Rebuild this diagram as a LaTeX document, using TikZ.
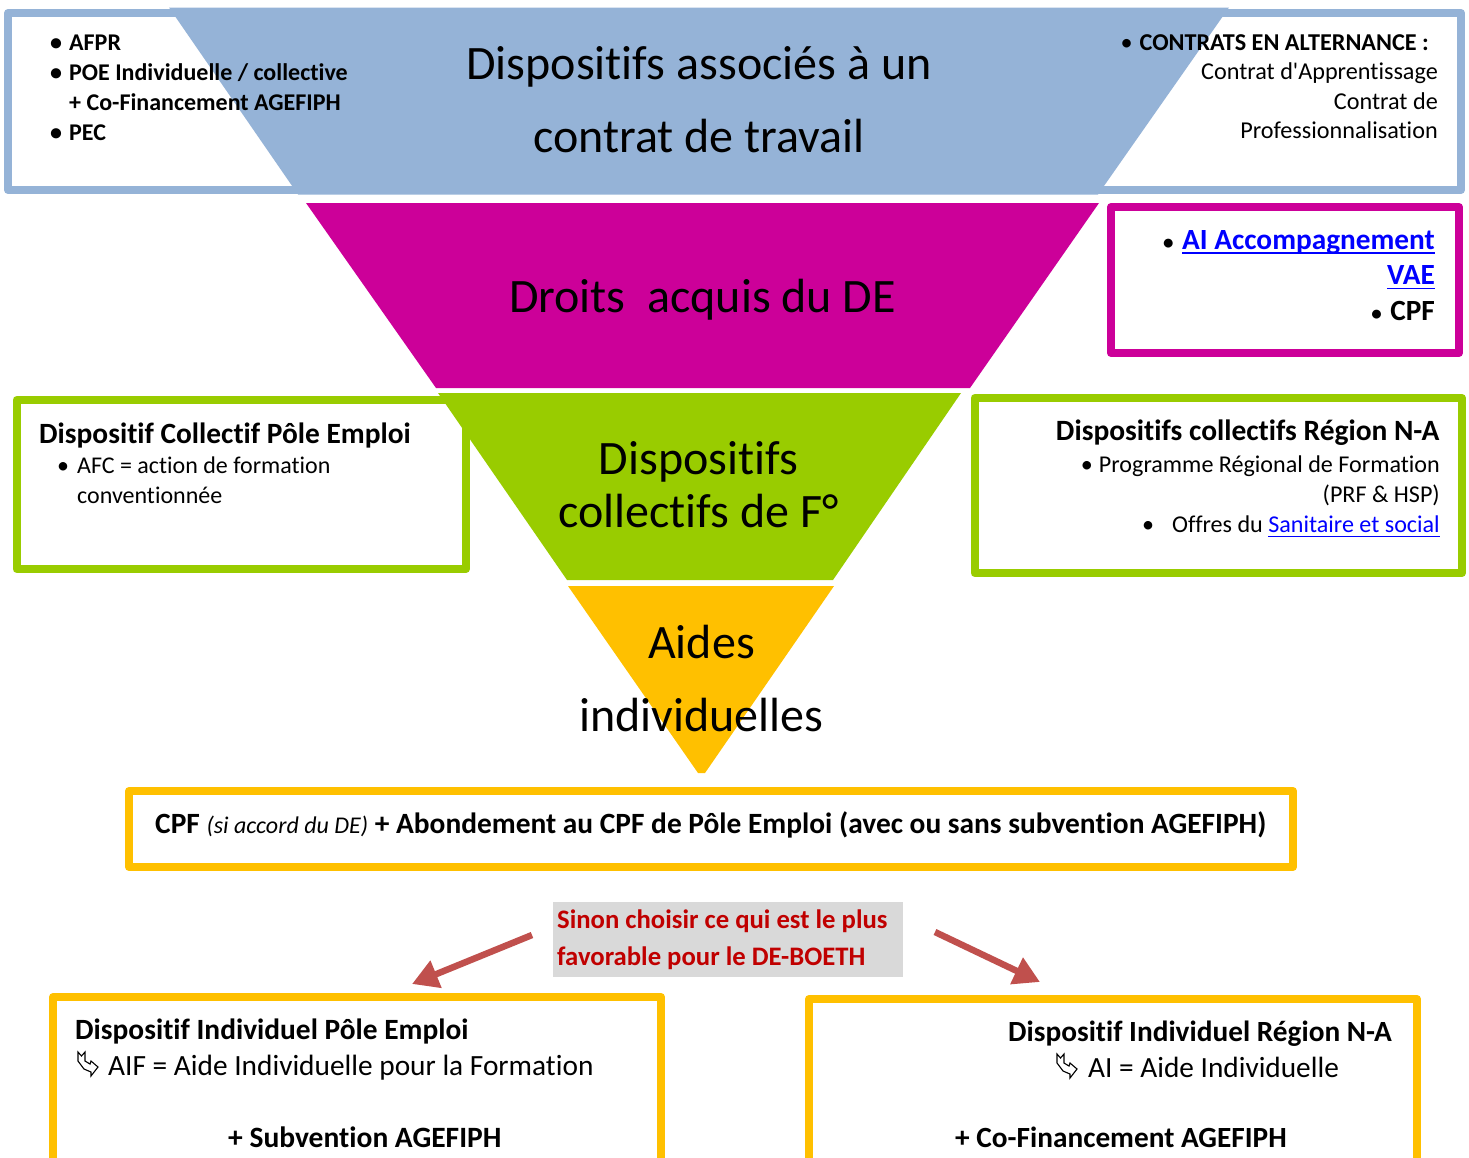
\documentclass[tikz,border=0pt]{standalone}
\usepackage{xcolor}
\usepackage{fontspec}
\setmainfont{Carlito}[Ligatures={NoCommon}]
\usetikzlibrary{arrows.meta}
\definecolor{bleuF}{HTML}{95B3D7}
\definecolor{magentaF}{HTML}{CC0099}
\definecolor{vertF}{HTML}{99CC00}
\definecolor{orangeF}{HTML}{FFC000}
\definecolor{rougeF}{HTML}{C0504D}
\definecolor{rougeT}{HTML}{C00000}
\definecolor{grisF}{HTML}{D9D9D9}
\newsavebox{\boiteLien}
\newcommand{\lien}[1]{\sbox{\boiteLien}{\color{blue}#1}\textcolor{blue}{\rlap{\rule[-4.5pt]{\wd\boiteLien}{1.5pt}}\usebox{\boiteLien}}}
\newcommand{\puce}{\makebox[19pt][l]{\textbullet}}
\newcommand{\petitepuce}{\makebox[19pt][l]{\fontsize{21}{21}\selectfont\textbullet}}

\begin{document}
\begin{tikzpicture}[x=1pt,y=-1pt]
        \useasboundingbox (0,0) rectangle (1469,1157);
        \clip (0,0) rectangle (1469,1157);
        \tikzset{cadre/.style={draw,line width=8pt,line join=round,fill=white,inner sep=0pt}}
        \tikzset{texte/.style={inner sep=0pt,font=\fontsize{#1}{#1}\selectfont}}
        \tikzset{fleche/.style={-{Triangle[length=26pt,width=28pt]},line width=6.5pt,color=rougeF}}
        \tikzset{coude/.pic={\draw[line width=1.1pt,line join=miter,fill=white] (0,0) -- (3.5,4) -- (7,0) -- (7,9) -- (12,12) -- (13,9) -- (20,15) -- (13,24) -- (13,20) -- (6,17) -- (0,9) -- cycle;}}
        \node[cadre,draw=bleuF,minimum width=1453pt,minimum height=177pt] (cAsso) at (734.5,101.5) {};
        \node[cadre,draw=magentaF,minimum width=348pt,minimum height=146pt] (cDroits) at (1285,280) {};
        \node[cadre,draw=vertF,minimum width=449.5pt,minimum height=169pt] (cPole) at (241.25,484.5) {};
        \node[cadre,draw=vertF,minimum width=487.5pt,minimum height=175pt] (cRegion) at (1218.25,485.5) {};
        \node[cadre,draw=orangeF,minimum width=1164pt,minimum height=76pt] (cCpf) at (711,829) {};
        \node[cadre,draw=orangeF,minimum width=608pt,minimum height=200pt] (cIndPole) at (357,1097) {};
        \node[cadre,draw=orangeF,minimum width=608pt,minimum height=200pt] (cIndRegion) at (1113,1099) {};
        \fill[bleuF] (169,7.5) -- (1229,7.5) -- (1098,194.5) -- (298,194.5) -- cycle;
        \fill[magentaF] (306,203) -- (1099,203) -- (970,388) -- (436,388) -- cycle;
        \fill[vertF] (438,393) -- (961,393) -- (833,580) -- (567,580) -- cycle;
        \fill[orangeF] (568,586) -- (834,586) -- (705,773) -- (698,773) -- cycle;
        \node[texte=48,align=center,font=\fontsize{48}{73}\selectfont] (tAsso) at (699,99.5) {Dispositifs associés à un\\contrat de travail};
        \node[texte=48] (tDroits) at (702.5,299.5) {Droits\ \ acquis du DE};
        \node[texte=48,align=center,font=\fontsize{48}{53}\selectfont] (tColl) at (698.5,485) {Dispositifs\\collectifs de F°};
        \node[texte=48,align=center,font=\fontsize{48}{73}\selectfont] (tAides) at (701.5,678) {Aides\\individuelles};
        \node[texte=24,align=left,anchor=north west,font=\fontsize{24}{30.2}\bfseries\selectfont] (lAsso) at (50,34.5) {\puce AFPR\\\puce POE Individuelle / collective\\\hspace*{19pt}+ Co-Financement AGEFIPH\\\puce PEC};
        \node[texte=24,align=right,anchor=north east,font=\fontsize{24.2}{29.3}\selectfont] (lAlt) at (1438,34.5) {\makebox[19pt][l]{\textbullet}\textbf{CONTRATS EN ALTERNANCE :}\hspace*{9pt}\\Contrat d\textquotesingle Apprentissage\\Contrat de\\Professionnalisation};
        \node[texte=29,align=right,anchor=north east,font=\fontsize{29.3}{35.5}\bfseries\selectfont] (lDroits) at (1435,230) {\petitepuce\lien{AI Accompagnement}\\\lien{VAE}\\\petitepuce CPF};
        \node[texte=29,anchor=west,font=\fontsize{29.4}{29}\bfseries\selectfont] (hPole) at (39,435) {Dispositif Collectif Pôle Emploi};
        \node[texte=24,align=left,anchor=north west,font=\fontsize{24}{29.5}\selectfont] (lPole) at (57,457) {\makebox[20pt][l]{\textbullet}AFC = action de formation\\\hspace*{20pt}conventionnée};
        \node[texte=29,anchor=east,font=\fontsize{29.45}{29}\bfseries\selectfont] (hRegion) at (1439.5,433) {Dispositifs collectifs Région N-A};
        \node[texte=24,align=right,anchor=north east,font=\fontsize{24.1}{30}\selectfont] (lRegion) at (1440,456) {\makebox[18pt][l]{\textbullet}Programme Régional de Formation\\(PRF \& HSP)\\\makebox[30pt][l]{\textbullet}Offres du \lien{Sanitaire et social}};
        \node[texte=29,anchor=base west,font=\fontsize{29.4}{29}\selectfont] (tCpf) at (155,833) {\textbf{CPF} {\itshape\fontsize{24}{24}\selectfont (si accord du DE)} \textbf{+ Abondement au CPF de Pôle Emploi (avec ou sans subvention AGEFIPH)}};
        \node[fill=grisF,minimum width=350pt,minimum height=75pt,inner sep=0pt] (gSinon) at (728,939.5) {};
        \node[texte=26,align=left,anchor=west,text=rougeT,font=\fontsize{26.7}{37}\bfseries\selectfont] (tSinon) at (557,940) {Sinon choisir ce qui est le plus\\favorable pour le DE-BOETH};
        \coordinate (sG) at (532,935);
        \coordinate (aG) at (412,984);
        \coordinate (sD) at (935,932);
        \coordinate (aD) at (1040,982);
        \draw[fleche] (sG) -- (aG);
        \draw[fleche] (sD) -- (aD);
        \node[texte=29,anchor=west,font=\fontsize{29.4}{29}\bfseries\selectfont] (hIndPole) at (75,1031.5) {Dispositif Individuel Pôle Emploi};
        \pic at (78,1052) {coude};
        \node[texte=29,anchor=west,font=\fontsize{29.35}{29}\selectfont] (tAif) at (108,1067.5) {AIF = Aide Individuelle pour la Formation};
        \node[texte=29,anchor=west,font=\fontsize{29.5}{29}\bfseries\selectfont] (tSub) at (228,1137) {+ Subvention AGEFIPH};
        \node[texte=29,anchor=east,font=\fontsize{29.3}{29}\bfseries\selectfont] (hIndRegion) at (1392,1033.5) {Dispositif Individuel Région N-A};
        \pic at (1057,1054) {coude};
        \node[texte=29,anchor=west,font=\fontsize{29.3}{29}\selectfont] (tAi) at (1088,1067) {AI = Aide Individuelle};
        \node[texte=29,anchor=west,font=\fontsize{29.3}{29}\bfseries\selectfont] (tCofi) at (955,1137) {+ Co-Financement AGEFIPH};
\end{tikzpicture}
\end{document}
